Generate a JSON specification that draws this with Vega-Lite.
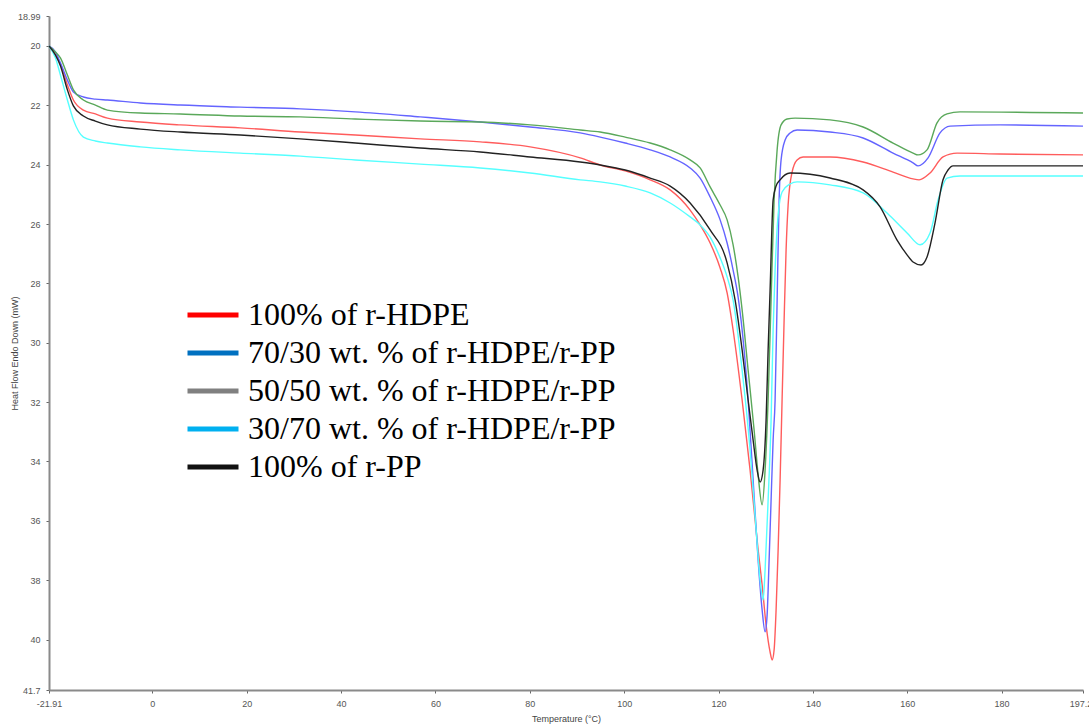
{
  "$schema": "https://vega.github.io/schema/vega-lite/v6.json",
  "width": 1034,
  "height": 674,
  "autosize": {"type": "none"},
  "padding": {"left": 49, "top": 16, "right": 6, "bottom": 37},
  "background": "white",
  "config": {
    "view": {"stroke": null},
    "axis": {
      "grid": false,
      "domainColor": "#8a8a8a",
      "domainWidth": 2,
      "tickColor": "#666",
      "tickSize": 3,
      "labelFont": "Liberation Sans",
      "labelFontSize": 9,
      "labelColor": "#555",
      "titleFont": "Liberation Sans",
      "titleFontSize": 9,
      "titleFontWeight": "normal",
      "titleColor": "#444"
    }
  },
  "data": {
    "values": [
      {"s":"100% of r-HDPE","t":-21.91,"v":20.0},{"s":"100% of r-HDPE","t":-20.55,"v":20.3},{"s":"100% of r-HDPE","t":-19.49,"v":20.61},{"s":"100% of r-HDPE","t":-18.01,"v":21.31},{"s":"100% of r-HDPE","t":-16.74,"v":21.82},{"s":"100% of r-HDPE","t":-14.62,"v":22.16},{"s":"100% of r-HDPE","t":-12.08,"v":22.29},{"s":"100% of r-HDPE","t":-9.53,"v":22.43},{"s":"100% of r-HDPE","t":-2.54,"v":22.56},{"s":"100% of r-HDPE","t":5.93,"v":22.66},{"s":"100% of r-HDPE","t":18.64,"v":22.76},{"s":"100% of r-HDPE","t":31.36,"v":22.9},{"s":"100% of r-HDPE","t":43.01,"v":23.0},{"s":"100% of r-HDPE","t":56.78,"v":23.13},{"s":"100% of r-HDPE","t":69.49,"v":23.23},{"s":"100% of r-HDPE","t":80.08,"v":23.4},{"s":"100% of r-HDPE","t":90.68,"v":23.77},{"s":"100% of r-HDPE","t":94.92,"v":24.01},{"s":"100% of r-HDPE","t":100.21,"v":24.21},{"s":"100% of r-HDPE","t":105.51,"v":24.51},{"s":"100% of r-HDPE","t":109.75,"v":24.85},{"s":"100% of r-HDPE","t":113.98,"v":25.53},{"s":"100% of r-HDPE","t":116.1,"v":26.03},{"s":"100% of r-HDPE","t":118.22,"v":26.64},{"s":"100% of r-HDPE","t":120.34,"v":27.48},{"s":"100% of r-HDPE","t":121.82,"v":28.32},{"s":"100% of r-HDPE","t":123.09,"v":29.57},{"s":"100% of r-HDPE","t":125.0,"v":31.93},{"s":"100% of r-HDPE","t":126.69,"v":34.29},{"s":"100% of r-HDPE","t":128.39,"v":36.98},{"s":"100% of r-HDPE","t":129.24,"v":38.16},{"s":"100% of r-HDPE","t":130.08,"v":39.51},{"s":"100% of r-HDPE","t":130.93,"v":40.42},{"s":"100% of r-HDPE","t":131.36,"v":40.69},{"s":"100% of r-HDPE","t":131.78,"v":40.35},{"s":"100% of r-HDPE","t":132.2,"v":39.0},{"s":"100% of r-HDPE","t":132.63,"v":36.98},{"s":"100% of r-HDPE","t":133.05,"v":34.62},{"s":"100% of r-HDPE","t":133.47,"v":31.93},{"s":"100% of r-HDPE","t":133.9,"v":29.23},{"s":"100% of r-HDPE","t":134.32,"v":26.87},{"s":"100% of r-HDPE","t":134.75,"v":25.36},{"s":"100% of r-HDPE","t":135.59,"v":24.25},{"s":"100% of r-HDPE","t":136.65,"v":23.84},{"s":"100% of r-HDPE","t":137.92,"v":23.74},{"s":"100% of r-HDPE","t":143.64,"v":23.74},{"s":"100% of r-HDPE","t":150.64,"v":23.91},{"s":"100% of r-HDPE","t":156.99,"v":24.25},{"s":"100% of r-HDPE","t":161.23,"v":24.48},{"s":"100% of r-HDPE","t":162.5,"v":24.51},{"s":"100% of r-HDPE","t":164.83,"v":24.28},{"s":"100% of r-HDPE","t":167.58,"v":23.74},{"s":"100% of r-HDPE","t":170.55,"v":23.61},{"s":"100% of r-HDPE","t":179.66,"v":23.64},{"s":"100% of r-HDPE","t":197.25,"v":23.67},

      {"s":"70/30 wt. % of r-HDPE/r-PP","t":-21.91,"v":20.0},{"s":"70/30 wt. % of r-HDPE/r-PP","t":-20.55,"v":20.2},{"s":"70/30 wt. % of r-HDPE/r-PP","t":-19.49,"v":20.57},{"s":"70/30 wt. % of r-HDPE/r-PP","t":-18.01,"v":21.15},{"s":"70/30 wt. % of r-HDPE/r-PP","t":-16.74,"v":21.55},{"s":"70/30 wt. % of r-HDPE/r-PP","t":-14.62,"v":21.72},{"s":"70/30 wt. % of r-HDPE/r-PP","t":-12.08,"v":21.79},{"s":"70/30 wt. % of r-HDPE/r-PP","t":-9.53,"v":21.82},{"s":"70/30 wt. % of r-HDPE/r-PP","t":-2.54,"v":21.92},{"s":"70/30 wt. % of r-HDPE/r-PP","t":5.93,"v":21.99},{"s":"70/30 wt. % of r-HDPE/r-PP","t":18.64,"v":22.06},{"s":"70/30 wt. % of r-HDPE/r-PP","t":31.36,"v":22.12},{"s":"70/30 wt. % of r-HDPE/r-PP","t":43.01,"v":22.22},{"s":"70/30 wt. % of r-HDPE/r-PP","t":56.78,"v":22.39},{"s":"70/30 wt. % of r-HDPE/r-PP","t":69.49,"v":22.56},{"s":"70/30 wt. % of r-HDPE/r-PP","t":80.08,"v":22.73},{"s":"70/30 wt. % of r-HDPE/r-PP","t":90.68,"v":22.93},{"s":"70/30 wt. % of r-HDPE/r-PP","t":94.92,"v":23.07},{"s":"70/30 wt. % of r-HDPE/r-PP","t":100.21,"v":23.27},{"s":"70/30 wt. % of r-HDPE/r-PP","t":105.51,"v":23.5},{"s":"70/30 wt. % of r-HDPE/r-PP","t":109.75,"v":23.74},{"s":"70/30 wt. % of r-HDPE/r-PP","t":113.98,"v":24.11},{"s":"70/30 wt. % of r-HDPE/r-PP","t":116.1,"v":24.45},{"s":"70/30 wt. % of r-HDPE/r-PP","t":118.22,"v":25.09},{"s":"70/30 wt. % of r-HDPE/r-PP","t":120.34,"v":25.86},{"s":"70/30 wt. % of r-HDPE/r-PP","t":121.82,"v":26.64},{"s":"70/30 wt. % of r-HDPE/r-PP","t":123.09,"v":27.55},{"s":"70/30 wt. % of r-HDPE/r-PP","t":124.15,"v":28.46},{"s":"70/30 wt. % of r-HDPE/r-PP","t":125.42,"v":30.24},{"s":"70/30 wt. % of r-HDPE/r-PP","t":126.27,"v":31.93},{"s":"70/30 wt. % of r-HDPE/r-PP","t":127.33,"v":34.62},{"s":"70/30 wt. % of r-HDPE/r-PP","t":128.39,"v":37.32},{"s":"70/30 wt. % of r-HDPE/r-PP","t":129.24,"v":39.0},{"s":"70/30 wt. % of r-HDPE/r-PP","t":129.87,"v":39.74},{"s":"70/30 wt. % of r-HDPE/r-PP","t":130.3,"v":39.17},{"s":"70/30 wt. % of r-HDPE/r-PP","t":130.72,"v":37.32},{"s":"70/30 wt. % of r-HDPE/r-PP","t":131.14,"v":35.3},{"s":"70/30 wt. % of r-HDPE/r-PP","t":131.57,"v":33.28},{"s":"70/30 wt. % of r-HDPE/r-PP","t":131.99,"v":31.93},{"s":"70/30 wt. % of r-HDPE/r-PP","t":132.42,"v":28.56},{"s":"70/30 wt. % of r-HDPE/r-PP","t":132.84,"v":25.19},{"s":"70/30 wt. % of r-HDPE/r-PP","t":133.26,"v":23.84},{"s":"70/30 wt. % of r-HDPE/r-PP","t":134.11,"v":23.17},{"s":"70/30 wt. % of r-HDPE/r-PP","t":135.17,"v":22.93},{"s":"70/30 wt. % of r-HDPE/r-PP","t":136.65,"v":22.83},{"s":"70/30 wt. % of r-HDPE/r-PP","t":143.64,"v":22.9},{"s":"70/30 wt. % of r-HDPE/r-PP","t":150.64,"v":23.1},{"s":"70/30 wt. % of r-HDPE/r-PP","t":156.99,"v":23.61},{"s":"70/30 wt. % of r-HDPE/r-PP","t":161.23,"v":23.94},{"s":"70/30 wt. % of r-HDPE/r-PP","t":162.29,"v":24.04},{"s":"70/30 wt. % of r-HDPE/r-PP","t":164.41,"v":23.77},{"s":"70/30 wt. % of r-HDPE/r-PP","t":166.95,"v":22.93},{"s":"70/30 wt. % of r-HDPE/r-PP","t":169.07,"v":22.7},{"s":"70/30 wt. % of r-HDPE/r-PP","t":179.66,"v":22.66},{"s":"70/30 wt. % of r-HDPE/r-PP","t":197.25,"v":22.7},

      {"s":"50/50 wt. % of r-HDPE/r-PP","t":-21.91,"v":20.0},{"s":"50/50 wt. % of r-HDPE/r-PP","t":-20.55,"v":20.2},{"s":"50/50 wt. % of r-HDPE/r-PP","t":-19.49,"v":20.4},{"s":"50/50 wt. % of r-HDPE/r-PP","t":-18.01,"v":20.98},{"s":"50/50 wt. % of r-HDPE/r-PP","t":-16.74,"v":21.48},{"s":"50/50 wt. % of r-HDPE/r-PP","t":-14.62,"v":21.82},{"s":"50/50 wt. % of r-HDPE/r-PP","t":-12.08,"v":21.99},{"s":"50/50 wt. % of r-HDPE/r-PP","t":-9.53,"v":22.16},{"s":"50/50 wt. % of r-HDPE/r-PP","t":-2.54,"v":22.26},{"s":"50/50 wt. % of r-HDPE/r-PP","t":5.93,"v":22.29},{"s":"50/50 wt. % of r-HDPE/r-PP","t":18.64,"v":22.36},{"s":"50/50 wt. % of r-HDPE/r-PP","t":31.36,"v":22.39},{"s":"50/50 wt. % of r-HDPE/r-PP","t":43.01,"v":22.46},{"s":"50/50 wt. % of r-HDPE/r-PP","t":56.78,"v":22.53},{"s":"50/50 wt. % of r-HDPE/r-PP","t":69.49,"v":22.56},{"s":"50/50 wt. % of r-HDPE/r-PP","t":80.08,"v":22.66},{"s":"50/50 wt. % of r-HDPE/r-PP","t":90.68,"v":22.83},{"s":"50/50 wt. % of r-HDPE/r-PP","t":94.92,"v":22.9},{"s":"50/50 wt. % of r-HDPE/r-PP","t":100.21,"v":23.07},{"s":"50/50 wt. % of r-HDPE/r-PP","t":105.51,"v":23.27},{"s":"50/50 wt. % of r-HDPE/r-PP","t":109.75,"v":23.5},{"s":"50/50 wt. % of r-HDPE/r-PP","t":113.98,"v":23.84},{"s":"50/50 wt. % of r-HDPE/r-PP","t":116.1,"v":24.11},{"s":"50/50 wt. % of r-HDPE/r-PP","t":118.22,"v":24.75},{"s":"50/50 wt. % of r-HDPE/r-PP","t":120.34,"v":25.36},{"s":"50/50 wt. % of r-HDPE/r-PP","t":121.82,"v":25.86},{"s":"50/50 wt. % of r-HDPE/r-PP","t":123.09,"v":26.7},{"s":"50/50 wt. % of r-HDPE/r-PP","t":124.15,"v":27.78},{"s":"50/50 wt. % of r-HDPE/r-PP","t":125.0,"v":28.89},{"s":"50/50 wt. % of r-HDPE/r-PP","t":126.27,"v":30.92},{"s":"50/50 wt. % of r-HDPE/r-PP","t":127.54,"v":32.94},{"s":"50/50 wt. % of r-HDPE/r-PP","t":128.39,"v":34.45},{"s":"50/50 wt. % of r-HDPE/r-PP","t":129.24,"v":35.46},{"s":"50/50 wt. % of r-HDPE/r-PP","t":129.87,"v":34.29},{"s":"50/50 wt. % of r-HDPE/r-PP","t":130.51,"v":31.93},{"s":"50/50 wt. % of r-HDPE/r-PP","t":131.14,"v":28.56},{"s":"50/50 wt. % of r-HDPE/r-PP","t":131.78,"v":25.19},{"s":"50/50 wt. % of r-HDPE/r-PP","t":132.42,"v":23.5},{"s":"50/50 wt. % of r-HDPE/r-PP","t":133.26,"v":22.66},{"s":"50/50 wt. % of r-HDPE/r-PP","t":134.53,"v":22.46},{"s":"50/50 wt. % of r-HDPE/r-PP","t":136.23,"v":22.43},{"s":"50/50 wt. % of r-HDPE/r-PP","t":143.64,"v":22.49},{"s":"50/50 wt. % of r-HDPE/r-PP","t":150.64,"v":22.73},{"s":"50/50 wt. % of r-HDPE/r-PP","t":156.99,"v":23.27},{"s":"50/50 wt. % of r-HDPE/r-PP","t":161.23,"v":23.61},{"s":"50/50 wt. % of r-HDPE/r-PP","t":162.29,"v":23.67},{"s":"50/50 wt. % of r-HDPE/r-PP","t":164.19,"v":23.5},{"s":"50/50 wt. % of r-HDPE/r-PP","t":166.31,"v":22.59},{"s":"50/50 wt. % of r-HDPE/r-PP","t":168.43,"v":22.29},{"s":"50/50 wt. % of r-HDPE/r-PP","t":171.19,"v":22.22},{"s":"50/50 wt. % of r-HDPE/r-PP","t":197.25,"v":22.26},

      {"s":"30/70 wt. % of r-HDPE/r-PP","t":-21.91,"v":20.0},{"s":"30/70 wt. % of r-HDPE/r-PP","t":-20.55,"v":20.4},{"s":"30/70 wt. % of r-HDPE/r-PP","t":-19.49,"v":20.98},{"s":"30/70 wt. % of r-HDPE/r-PP","t":-18.01,"v":21.82},{"s":"30/70 wt. % of r-HDPE/r-PP","t":-16.74,"v":22.49},{"s":"30/70 wt. % of r-HDPE/r-PP","t":-14.62,"v":23.07},{"s":"30/70 wt. % of r-HDPE/r-PP","t":-12.08,"v":23.2},{"s":"30/70 wt. % of r-HDPE/r-PP","t":-9.53,"v":23.27},{"s":"30/70 wt. % of r-HDPE/r-PP","t":-2.54,"v":23.4},{"s":"30/70 wt. % of r-HDPE/r-PP","t":5.93,"v":23.5},{"s":"30/70 wt. % of r-HDPE/r-PP","t":18.64,"v":23.61},{"s":"30/70 wt. % of r-HDPE/r-PP","t":31.36,"v":23.71},{"s":"30/70 wt. % of r-HDPE/r-PP","t":43.01,"v":23.84},{"s":"30/70 wt. % of r-HDPE/r-PP","t":56.78,"v":23.98},{"s":"30/70 wt. % of r-HDPE/r-PP","t":69.49,"v":24.11},{"s":"30/70 wt. % of r-HDPE/r-PP","t":80.08,"v":24.28},{"s":"30/70 wt. % of r-HDPE/r-PP","t":90.68,"v":24.51},{"s":"30/70 wt. % of r-HDPE/r-PP","t":94.92,"v":24.58},{"s":"30/70 wt. % of r-HDPE/r-PP","t":100.21,"v":24.72},{"s":"30/70 wt. % of r-HDPE/r-PP","t":105.51,"v":24.95},{"s":"30/70 wt. % of r-HDPE/r-PP","t":109.75,"v":25.29},{"s":"30/70 wt. % of r-HDPE/r-PP","t":113.98,"v":25.76},{"s":"30/70 wt. % of r-HDPE/r-PP","t":116.1,"v":26.03},{"s":"30/70 wt. % of r-HDPE/r-PP","t":118.22,"v":26.44},{"s":"30/70 wt. % of r-HDPE/r-PP","t":120.34,"v":27.14},{"s":"30/70 wt. % of r-HDPE/r-PP","t":121.82,"v":27.78},{"s":"30/70 wt. % of r-HDPE/r-PP","t":123.09,"v":28.56},{"s":"30/70 wt. % of r-HDPE/r-PP","t":125.0,"v":30.92},{"s":"30/70 wt. % of r-HDPE/r-PP","t":126.69,"v":33.61},{"s":"30/70 wt. % of r-HDPE/r-PP","t":127.97,"v":36.31},{"s":"30/70 wt. % of r-HDPE/r-PP","t":128.81,"v":37.99},{"s":"30/70 wt. % of r-HDPE/r-PP","t":129.45,"v":38.67},{"s":"30/70 wt. % of r-HDPE/r-PP","t":129.87,"v":37.65},{"s":"30/70 wt. % of r-HDPE/r-PP","t":130.51,"v":35.3},{"s":"30/70 wt. % of r-HDPE/r-PP","t":131.14,"v":32.6},{"s":"30/70 wt. % of r-HDPE/r-PP","t":131.57,"v":29.57},{"s":"30/70 wt. % of r-HDPE/r-PP","t":131.99,"v":27.55},{"s":"30/70 wt. % of r-HDPE/r-PP","t":132.63,"v":25.69},{"s":"30/70 wt. % of r-HDPE/r-PP","t":133.47,"v":24.92},{"s":"30/70 wt. % of r-HDPE/r-PP","t":135.17,"v":24.65},{"s":"30/70 wt. % of r-HDPE/r-PP","t":136.65,"v":24.58},{"s":"30/70 wt. % of r-HDPE/r-PP","t":143.64,"v":24.68},{"s":"30/70 wt. % of r-HDPE/r-PP","t":150.64,"v":24.95},{"s":"30/70 wt. % of r-HDPE/r-PP","t":155.72,"v":25.63},{"s":"30/70 wt. % of r-HDPE/r-PP","t":159.96,"v":26.3},{"s":"30/70 wt. % of r-HDPE/r-PP","t":162.71,"v":26.7},{"s":"30/70 wt. % of r-HDPE/r-PP","t":164.83,"v":26.3},{"s":"30/70 wt. % of r-HDPE/r-PP","t":166.53,"v":25.19},{"s":"30/70 wt. % of r-HDPE/r-PP","t":168.43,"v":24.45},{"s":"30/70 wt. % of r-HDPE/r-PP","t":171.19,"v":24.38},{"s":"30/70 wt. % of r-HDPE/r-PP","t":197.25,"v":24.38},

      {"s":"100% of r-PP","t":-21.91,"v":20.0},{"s":"100% of r-PP","t":-20.55,"v":20.3},{"s":"100% of r-PP","t":-19.49,"v":20.67},{"s":"100% of r-PP","t":-18.01,"v":21.48},{"s":"100% of r-PP","t":-16.74,"v":22.02},{"s":"100% of r-PP","t":-14.62,"v":22.36},{"s":"100% of r-PP","t":-12.08,"v":22.53},{"s":"100% of r-PP","t":-9.53,"v":22.66},{"s":"100% of r-PP","t":-2.54,"v":22.8},{"s":"100% of r-PP","t":5.93,"v":22.9},{"s":"100% of r-PP","t":18.64,"v":23.0},{"s":"100% of r-PP","t":31.36,"v":23.13},{"s":"100% of r-PP","t":43.01,"v":23.27},{"s":"100% of r-PP","t":56.78,"v":23.44},{"s":"100% of r-PP","t":69.49,"v":23.57},{"s":"100% of r-PP","t":80.08,"v":23.74},{"s":"100% of r-PP","t":90.68,"v":23.91},{"s":"100% of r-PP","t":94.92,"v":24.01},{"s":"100% of r-PP","t":100.21,"v":24.18},{"s":"100% of r-PP","t":105.51,"v":24.45},{"s":"100% of r-PP","t":109.75,"v":24.72},{"s":"100% of r-PP","t":113.98,"v":25.29},{"s":"100% of r-PP","t":118.22,"v":26.2},{"s":"100% of r-PP","t":121.82,"v":27.31},{"s":"100% of r-PP","t":123.52,"v":28.56},{"s":"100% of r-PP","t":125.0,"v":30.24},{"s":"100% of r-PP","t":126.27,"v":31.93},{"s":"100% of r-PP","t":127.33,"v":33.28},{"s":"100% of r-PP","t":128.18,"v":34.29},{"s":"100% of r-PP","t":128.81,"v":34.69},{"s":"100% of r-PP","t":129.45,"v":34.29},{"s":"100% of r-PP","t":130.08,"v":32.6},{"s":"100% of r-PP","t":130.51,"v":30.24},{"s":"100% of r-PP","t":130.93,"v":28.22},{"s":"100% of r-PP","t":131.57,"v":25.19},{"s":"100% of r-PP","t":132.2,"v":24.72},{"s":"100% of r-PP","t":133.05,"v":24.51},{"s":"100% of r-PP","t":135.17,"v":24.28},{"s":"100% of r-PP","t":143.64,"v":24.45},{"s":"100% of r-PP","t":150.64,"v":24.85},{"s":"100% of r-PP","t":154.24,"v":25.42},{"s":"100% of r-PP","t":157.84,"v":26.54},{"s":"100% of r-PP","t":159.96,"v":27.04},{"s":"100% of r-PP","t":161.23,"v":27.28},{"s":"100% of r-PP","t":162.92,"v":27.38},{"s":"100% of r-PP","t":164.19,"v":27.11},{"s":"100% of r-PP","t":165.89,"v":25.96},{"s":"100% of r-PP","t":167.58,"v":24.51},{"s":"100% of r-PP","t":168.64,"v":24.18},{"s":"100% of r-PP","t":169.7,"v":24.04},{"s":"100% of r-PP","t":179.66,"v":24.04},{"s":"100% of r-PP","t":197.25,"v":24.04}
    ]
  },
  "encoding": {
    "x": {
      "field": "t", "type": "quantitative",
      "scale": {"domain": [-21.91, 197.25], "nice": false, "zero": false},
      "axis": {
        "title": "Temperature (°C)",
        "values": [-21.91, 0, 20, 40, 60, 80, 100, 120, 140, 160, 180, 197.25],
        "labelExpr": "'' + datum.value",
        "labelOverlap": false,
        "labelFlush": false,
        "labelPadding": 6,
        "titleY": 28,
        "titleBaseline": "middle"
      }
    },
    "y": {
      "field": "v", "type": "quantitative",
      "scale": {"domain": [18.99, 41.7], "nice": false, "zero": false, "reverse": true},
      "axis": {
        "title": "Heat Flow Endo Down (mW)",
        "values": [18.99, 20, 22, 24, 26, 28, 30, 32, 34, 36, 38, 40, 41.7],
        "labelExpr": "'' + datum.value",
        "labelOverlap": false,
        "labelFlush": false,
        "labelPadding": 6,
        "titleX": -35,
        "titleY": 337,
        "titleAngle": -90,
        "titleAlign": "center",
        "titleBaseline": "middle"
      }
    }
  },
  "layer": [
    {
      "mark": {"type": "line", "interpolate": "monotone"},
      "encoding": {
        "color": {
          "field": "s", "type": "nominal",
          "scale": {
            "domain": ["100% of r-HDPE", "70/30 wt. % of r-HDPE/r-PP", "50/50 wt. % of r-HDPE/r-PP", "30/70 wt. % of r-HDPE/r-PP", "100% of r-PP"],
            "range": ["#ff5c5c", "#6464ff", "#5aa85a", "#55ffff", "#222222"]
          },
          "legend": null
        },
        "strokeWidth": {
          "field": "s", "type": "nominal",
          "scale": {
            "domain": ["100% of r-HDPE", "70/30 wt. % of r-HDPE/r-PP", "50/50 wt. % of r-HDPE/r-PP", "30/70 wt. % of r-HDPE/r-PP", "100% of r-PP"],
            "range": [1.4, 1.4, 1.4, 1.6, 2.2]
          },
          "legend": null
        }
      }
    },
    {
      "mark": {"type": "line", "opacity": 0},
      "encoding": {
        "color": {
          "field": "s", "type": "nominal",
          "scale": {
            "domain": ["100% of r-HDPE", "70/30 wt. % of r-HDPE/r-PP", "50/50 wt. % of r-HDPE/r-PP", "30/70 wt. % of r-HDPE/r-PP", "100% of r-PP"],
            "range": ["#ff0000", "#0070c0", "#808080", "#00b0f0", "#111111"]
          },
          "legend": {
            "title": null,
            "orient": "none",
            "legendX": 136,
            "legendY": 284,
            "symbolType": "stroke",
            "symbolSize": 2601,
            "symbolStrokeWidth": 5,
            "symbolOpacity": 1,
            "labelFont": "Liberation Serif",
            "labelFontSize": 32,
            "labelColor": "#000000",
            "labelOffset": 7,
            "labelLimit": 0,
            "clipHeight": 30,
            "rowPadding": 6,
            "padding": 0
          }
        }
      }
    }
  ],
  "resolve": {"scale": {"color": "independent", "strokeWidth": "independent"}, "legend": {"color": "independent"}}
}
